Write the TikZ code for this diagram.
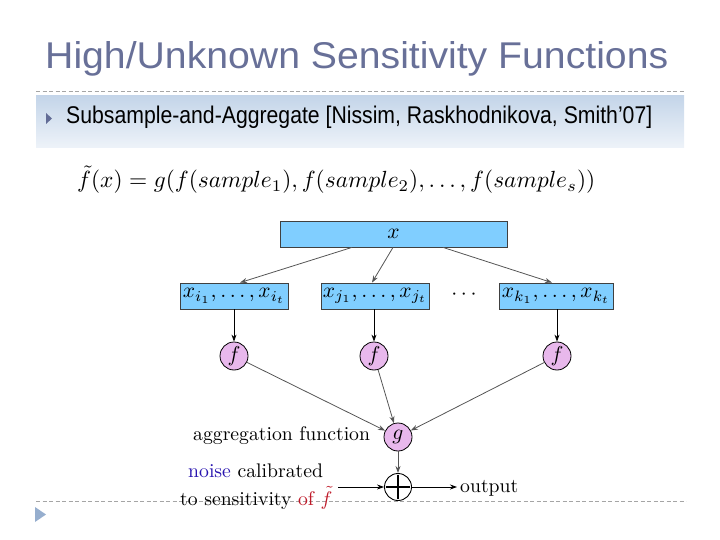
\documentclass[tikz,border=0pt]{standalone}
\usepackage{fontspec}
\usepackage{graphicx}
\usetikzlibrary{arrows.meta,calc}
\newfontfamily\titlefont{Liberation Sans}
\definecolor{titlecol}{RGB}{104,112,152}
\definecolor{bandtop}{RGB}{196,213,233}
\definecolor{bandbot}{RGB}{238,243,249}
\definecolor{bulletA}{RGB}{98,108,150}
\definecolor{bulletB}{RGB}{150,174,206}
\definecolor{dashcol}{RGB}{165,165,165}
\definecolor{boxfill}{RGB}{128,206,255}
\definecolor{circfill}{RGB}{232,184,236}
\definecolor{linecol}{RGB}{85,85,85}
\definecolor{noiseblue}{RGB}{40,20,175}
\definecolor{ofred}{RGB}{190,25,40}
\newcommand{\dsc}[1]{\scalebox{1.97}{#1}}
\newcommand{\msc}[1]{\scalebox{2.15}{#1}}
\tikzset{
  sepline/.style={draw=dashcol, line width=0.8pt, dash pattern=on 4pt off 2.5pt},
  databox/.style={draw=black!75, line width=0.8pt, fill=boxfill, minimum height=26pt, inner sep=0pt},
  fcirc/.style={circle, draw=black, line width=0.8pt, fill=circfill, minimum size=28pt, inner sep=0pt},
  conn/.style={draw=linecol, line width=0.8pt, -{Stealth[length=7pt,width=5pt]}},
  vconn/.style={draw=black, line width=0.8pt, -{Stealth[length=7pt,width=5pt]}},
  lbl/.style={anchor=base west, inner sep=0pt},
}
\begin{document}
\begin{tikzpicture}[x=1pt,y=-1pt]
\useasboundingbox (0,0) rectangle (720,540);
% header
\node[anchor=base west, inner sep=0pt, text=titlecol] (title) at (45,69)
  {\resizebox{623pt}{27pt}{\titlefont High/Unknown Sensitivity Functions}};
\draw[sepline] (36,91) -- (685,91);
\shade[top color=bandtop, bottom color=bandbot] (36,96) rectangle (684,148);
\fill[bulletA] (46,113) -- (52,118.5) -- (46,124) -- cycle;
\node[anchor=base west, inner sep=0pt] (sub) at (66,124)
  {\resizebox{586pt}{17.5pt}{\titlefont Subsample-and-Aggregate [Nissim, Raskhodnikova, Smith’07]}};
% footer
\draw[sepline] (36,501) -- (686,501);
\fill[bulletB] (35,507) -- (46,514.5) -- (35,522) -- cycle;
% formula
\node[anchor=base west, inner sep=0pt] (formula) at (77,188)
  {\resizebox{518pt}{!}{$\tilde{f}(x) = g(f(sample_1), f(sample_2), \ldots, f(sample_s))$}};
% diagram
\node[databox, minimum width=227pt] (xb) at (393.5,234) {\msc{$x$}};
\node[databox, minimum width=108pt] (b1) at (234,296) {\msc{$x_{i_1},\ldots,x_{i_t}$}};
\node[databox, minimum width=108pt] (b2) at (375,296) {\msc{$x_{j_1},\ldots,x_{j_t}$}};
\node[databox, minimum width=114pt] (b3) at (556,296) {\msc{$x_{k_1},\ldots,x_{k_t}$}};
\node[inner sep=0pt] (dots) at (464,295) {\msc{$\cdots$}};
\node[fcirc] (f1) at (234,356) {\msc{$f$}};
\node[fcirc] (f2) at (374,356) {\msc{$f$}};
\node[fcirc] (f3) at (557,356) {\msc{$f$}};
\node[fcirc] (g) at (398,437) {\msc{$g$}};
\node[circle, draw=black, line width=0.9pt, minimum size=27pt, inner sep=0pt,
  path picture={\draw[line width=1.6pt] ([yshift=-12pt]path picture bounding box.center) -- ([yshift=12pt]path picture bounding box.center)
     ([xshift=-12pt]path picture bounding box.center) -- ([xshift=12pt]path picture bounding box.center);}] (plus) at (398,487) {};
\draw[conn] ([xshift=-41.5pt]xb.south) -- ([xshift=6pt]b1.north);
\draw[conn] ([xshift=-0.5pt]xb.south) -- ([xshift=-3pt]b2.north);
\draw[conn] ([xshift=49.5pt]xb.south) -- ([xshift=-4pt]b3.north);
\draw[vconn] (b1.south) -- (f1.north);
\draw[vconn] (b2.south -| f2) -- (f2.north);
\draw[vconn] (b3.south -| f3) -- (f3.north);
\draw[conn] (f1) -- (g);
\draw[conn] (f2) -- (g);
\draw[conn] (f3) -- (g);
\draw[conn] (g) -- (plus);
\node[lbl] (agg) at (193,440) {\dsc{aggregation function}};
\node[lbl] (noise) at (188,477) {\dsc{\textcolor{noiseblue}{noise} calibrated}};
\node[lbl] (sens) at (180,505) {\dsc{to sensitivity \textcolor{ofred}{of $\tilde{f}$}}};
\coordinate (nin) at (338,487);
\coordinate (nout) at (457,487);
\draw[vconn] (nin) -- (plus);
\draw[vconn] (plus) -- (nout);
\node[lbl] (out) at (460,492) {\dsc{output}};
\end{tikzpicture}
\end{document}
